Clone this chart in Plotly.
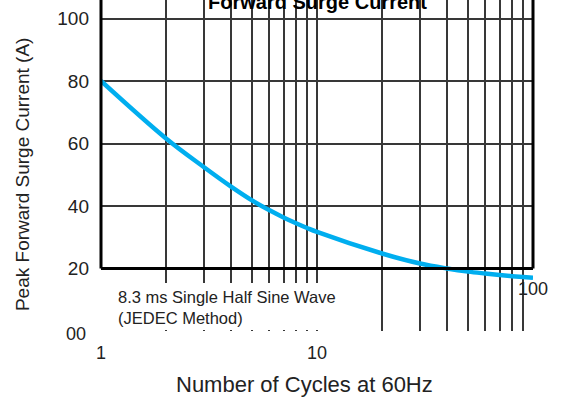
import math
import plotly.graph_objects as go

# Data
cycles = [1, 2, 3, 4, 5, 6, 7, 8, 9, 10, 20, 30, 40, 50, 60, 70, 80, 90, 100]
current = [80, 61.6, 52.4, 46.2, 41.8, 38.7, 36.35, 34.5, 32.97, 31.7,
           24.8, 21.6, 20.0, 19.0, 18.4, 17.95, 17.55, 17.25, 17.0]

grid_x = [2, 3, 4, 5, 6, 7, 8, 9, 10, 20, 30, 40, 50, 60, 70, 80, 90]
y_ticks = [20, 40, 60, 80, 100]
y_ticktext = ["20", "40", "60", "80", "100"]
x_labels = [(1, "1"), (10, "10")]

FONT = "Liberation Sans, Arial, sans-serif"
GRID = "#383838"
Y_TOP = 105.92

fig = go.Figure()
fig.add_trace(go.Scatter(
    x=cycles, y=current, mode="lines",
    line=dict(color="#00AEEF", width=4.5, shape="spline", smoothing=1.0),
    hoverinfo="skip", showlegend=False,
))

fig.update_layout(
    width=561, height=403,
    margin=dict(l=101, r=28, t=0, b=72),
    paper_bgcolor="white", plot_bgcolor="white",
    font=dict(family=FONT, color="#222222"),
    showlegend=False,
    xaxis=dict(type="log", range=[0, 2], tickvals=grid_x,
               ticktext=[""] * len(grid_x), showgrid=True, gridcolor=GRID,
               gridwidth=2, zeroline=False, showline=False, ticks=""),
    yaxis=dict(range=[0, Y_TOP], tickvals=y_ticks, ticktext=y_ticktext,
               showgrid=True, gridcolor=GRID, gridwidth=2, zeroline=False,
               showline=False, ticks="", tickfont=dict(size=19, color="#222222"),
               ticklabelstandoff=11),
)

# White area behind the note (hides the grid there)
fig.add_shape(type="rect", xref="paper", yref="y", x0=0.004, x1=0.52, y0=0.35, y1=15.4,
              fillcolor="white", line=dict(width=0), layer="above")

# Frame (thick border closed at y = 20)
frame = dict(color="black", width=3)
fig.add_shape(type="line", xref="paper", yref="y", x0=0, x1=0, y0=20, y1=Y_TOP, line=frame, layer="above")
fig.add_shape(type="line", xref="paper", yref="y", x0=1, x1=1, y0=20, y1=Y_TOP, line=frame, layer="above")
fig.add_shape(type="line", xref="paper", yref="y", x0=0, x1=1, y0=20, y1=20, line=frame, layer="above")

ann = []
ann.append(dict(text="<b>Forward Surge Current</b>", xref="x", yref="y", x=1, y=105.3,
                showarrow=False, font=dict(size=20, color="black"), yanchor="middle"))
for v, t in x_labels:
    ann.append(dict(text=t, xref="x", yref="paper", x=math.log10(v), y=-0.065,
                    showarrow=False, font=dict(size=18), yanchor="middle"))
ann.append(dict(text="100", xref="x", yref="y", x=2, y=13.6, showarrow=False,
                font=dict(size=18), yanchor="middle"))
ann.append(dict(text="00", xref="paper", yref="paper", x=-0.03, y=-0.009, showarrow=False,
                font=dict(size=18), xanchor="right", yanchor="middle"))
ann.append(dict(text="8.3 ms Single Half Sine Wave<br>(JEDEC Method)", xref="paper", yref="y",
                x=0.034, y=7.4, xanchor="left", yanchor="middle", align="left",
                showarrow=False, font=dict(size=16.5)))
ann.append(dict(text="Peak Forward Surge Current (A)", xref="paper", yref="paper",
                x=-0.183, y=0.474, textangle=-90, showarrow=False, font=dict(size=19),
                xanchor="center", yanchor="middle"))
ann.append(dict(text="Number of Cycles at 60Hz", xref="paper", yref="paper",
                x=0.472, y=-0.163, showarrow=False, font=dict(size=22),
                xanchor="center", yanchor="middle"))
fig.update_layout(annotations=ann)

fig.write_html("out.html")
